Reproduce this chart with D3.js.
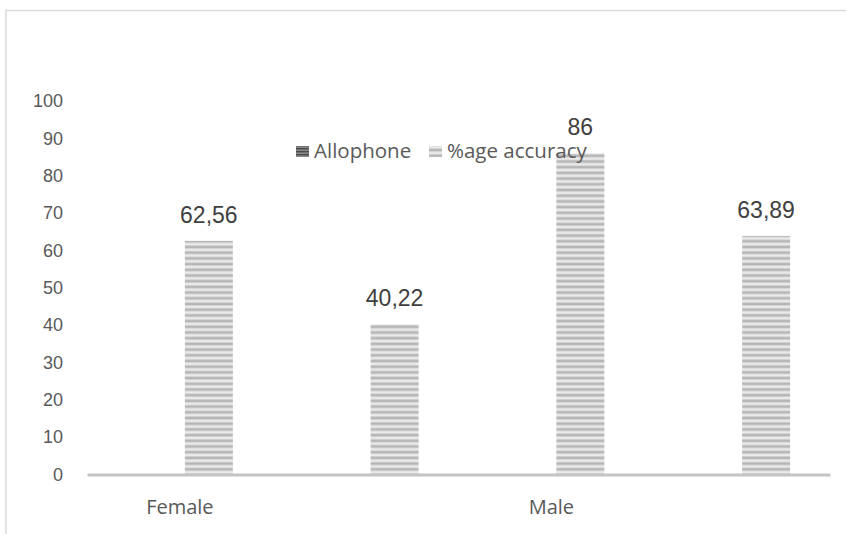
<!DOCTYPE html>
<html>
<head>
<meta charset="utf-8">
<script src="https://cdn.jsdelivr.net/npm/d3@7"></script>
<style>
  body { margin: 0; background: #fff; }
  svg { display: block; }
</style>
</head>
<body>
<svg id="chart" width="846" height="534"></svg>
<script>
// data
var categories = ["Female", "", "Male", ""];
var series = ["Allophone", "%age accuracy"];
var allophone = [null, null, null, null];
var accuracy = [62.56, 40.22, 86, 63.89];
var valueLabels = ["62,56", "40,22", "86", "63,89"];
var yTicks = [0, 10, 20, 30, 40, 50, 60, 70, 80, 90, 100];

var svg = d3.select("#chart");

/* patterns */
var defs = svg.append("defs");

var light = defs.append("pattern")
    .attr("id", "stripe-light")
    .attr("patternUnits", "userSpaceOnUse")
    .attr("width", 8).attr("height", 5.7);
light.append("rect").attr("width", 8).attr("height", 5.7).attr("fill", "#ececec");
light.append("rect").attr("y", 0).attr("width", 8).attr("height", 1).attr("fill", "#cfcfcf");
light.append("rect").attr("y", 1).attr("width", 8).attr("height", 2).attr("fill", "#b5b5b5");
light.append("rect").attr("y", 3).attr("width", 8).attr("height", 1).attr("fill", "#d2d2d2");

var dark = defs.append("pattern")
    .attr("id", "stripe-dark")
    .attr("patternUnits", "userSpaceOnUse")
    .attr("width", 8).attr("height", 3);
dark.append("rect").attr("width", 8).attr("height", 3).attr("fill", "#8a8a8a");
dark.append("rect").attr("y", 1).attr("width", 8).attr("height", 1.4).attr("fill", "#4a4a4a");

var fills = { "Allophone": "url(#stripe-dark)", "%age accuracy": "url(#stripe-light)" };

/* frame */
svg.append("rect")
    .attr("x", 6).attr("y", 10.5)
    .attr("width", 1000).attr("height", 1000)
    .attr("fill", "none")
    .attr("stroke", "#d9d9d9")
    .attr("stroke-width", 1.5);

/* scales */
var x0 = d3.scaleBand()
    .domain(d3.range(categories.length))
    .range([87, 830]);

var x1 = d3.scaleBand()
    .domain(series)
    .range([x0.bandwidth() / 2 - 49, x0.bandwidth() / 2 + 53])
    .paddingInner(0.111);

var y = d3.scaleLinear()
    .domain([0, 100])
    .range([474.5, 101]);

/* y axis labels */
var yAxis = svg.append("g")
    .attr("transform", "translate(63,0)")
    .call(d3.axisLeft(y).tickValues(yTicks).tickSize(0).tickPadding(0));
yAxis.select(".domain").remove();
yAxis.selectAll("text")
    .attr("fill", "#595959")
    .style("font-family", "Liberation Sans, Arial, sans-serif")
    .style("font-size", "18px");

/* bars */
var rows = categories.map(function (c, i) {
    return { i: i, values: [
        { key: "Allophone", value: allophone[i] },
        { key: "%age accuracy", value: accuracy[i], label: valueLabels[i] }
    ] };
});

var groups = svg.selectAll(".cat")
    .data(rows)
    .enter().append("g")
    .attr("class", "cat")
    .attr("transform", function (d) { return "translate(" + x0(d.i) + ",0)"; });

groups.selectAll("rect")
    .data(function (d) { return d.values.filter(function (v) { return v.value != null; }); })
    .enter().append("rect")
    .attr("x", function (d) { return x1(d.key); })
    .attr("y", function (d) { return y(d.value); })
    .attr("width", x1.bandwidth())
    .attr("height", function (d) { return y(0) - y(d.value); })
    .attr("fill", function (d) { return fills[d.key]; });

groups.selectAll(".val")
    .data(function (d) { return d.values.filter(function (v) { return v.value != null; }); })
    .enter().append("text")
    .attr("class", "val")
    .attr("x", function (d) { return x1(d.key) + x1.bandwidth() / 2; })
    .attr("y", function (d) { return y(d.value) - 18; })
    .attr("text-anchor", "middle")
    .attr("fill", "#404040")
    .style("font-family", "Liberation Sans, Arial, sans-serif")
    .style("font-size", "23px")
    .text(function (d) { return d.label; });

/* x axis */
var xAxis = svg.append("g")
    .attr("transform", "translate(0," + y(0) + ")")
    .call(d3.axisBottom(x0).tickSize(0).tickSizeOuter(0)
        .tickFormat(function (i) { return categories[i]; }));
xAxis.select(".domain")
    .attr("stroke", "#c4c4c4")
    .attr("stroke-width", 3);
xAxis.selectAll("text")
    .attr("y", 39.5)
    .attr("dy", 0)
    .attr("fill", "#595959")
    .style("font-family", "Open Sans, sans-serif")
    .style("font-size", "20px");

/* legend, drawn on top like the original */
var legendX = [296, 429];
var legend = svg.append("g");
series.forEach(function (s, i) {
    legend.append("rect")
        .attr("x", legendX[i]).attr("y", 146)
        .attr("width", 13).attr("height", 11)
        .attr("fill", fills[s]);
    legend.append("text")
        .attr("x", legendX[i] + 18).attr("y", 158)
        .attr("fill", "#595959")
        .style("font-family", "Open Sans, sans-serif")
        .style("font-size", "20.5px")
        .text(s);
});
</script>
</body>
</html>
